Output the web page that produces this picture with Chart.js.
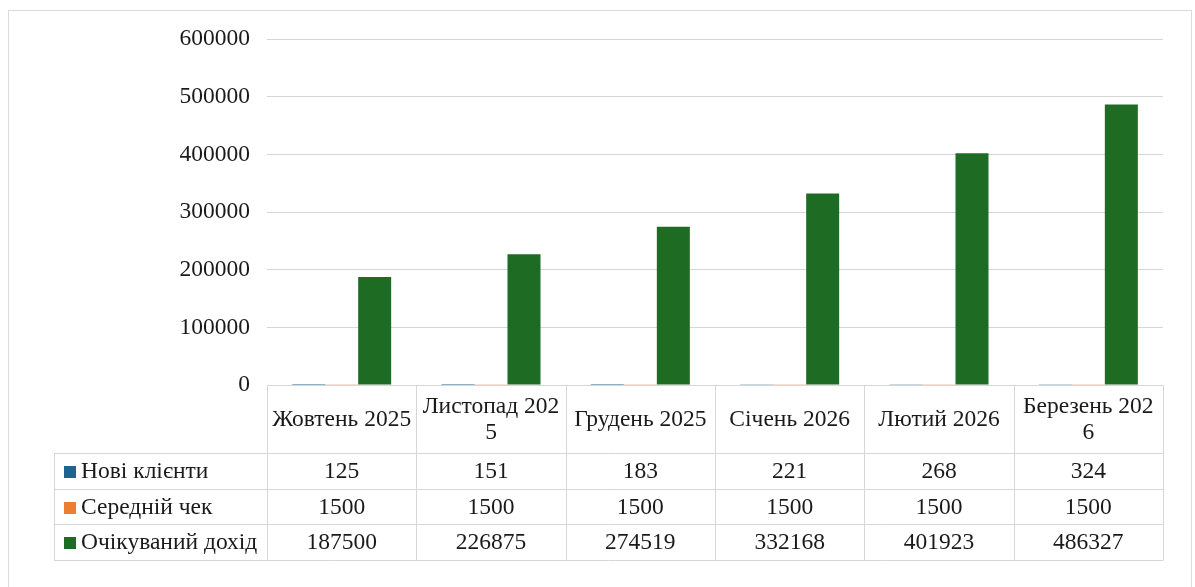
<!DOCTYPE html>
<html>
<head>
<meta charset="utf-8">
<script src="https://cdn.jsdelivr.net/npm/chart.js@4"></script>
<style>
  html, body { margin: 0; padding: 0; background: #ffffff; }
  #wrap { width: 1195px; height: 587px; position: relative; }
</style>
</head>
<body>
<div id="wrap"><canvas id="c" width="1195" height="587"></canvas></div>
<script>
// Months (header cells wrap the same way the spreadsheet table does)
const months = [
  ["Жовтень 2025"],
  ["Листопад 202", "5"],
  ["Грудень 2025"],
  ["Січень 2026"],
  ["Лютий 2026"],
  ["Березень 202", "6"]
];
const newClients = [125, 151, 183, 221, 268, 324];
const avgCheck = [1500, 1500, 1500, 1500, 1500, 1500];
const expectedIncome = [187500, 226875, 274519, 332168, 401923, 486327];
const seriesNames = ["Нові клієнти", "Середній чек", "Очікуваний дохід"];
const seriesColors = ["#1F6391", "#ED7D31", "#1E6B24"];
const yTicks = [0, 100000, 200000, 300000, 400000, 500000, 600000];

const FONT = '"Liberation Serif", "Times New Roman", serif';
const TEXT = '#1a1a1a';
const LINE = '#d6d6d6';

// Frame around the whole chart
const frame = {
  id: 'frame',
  beforeDraw(chart) {
    const ctx = chart.ctx;
    ctx.save();
    ctx.fillStyle = '#ffffff';
    ctx.fillRect(0, 0, chart.width, chart.height);
    ctx.strokeStyle = '#dcdcdc';
    ctx.lineWidth = 1;
    ctx.strokeRect(8.5, 10.5, 1183, 620);
    ctx.restore();
  }
};

// Data table under the plot, columns aligned to the category scale
const dataTable = {
  id: 'dataTable',
  afterDraw(chart) {
    const ctx = chart.ctx;
    const xs = chart.scales.x, ys = chart.scales.y;
    const n = chart.data.labels.length;
    const colW = (xs.right - xs.left) / n;
    const top = Math.round(ys.getPixelForValue(0));
    const headerBottom = top + 68;
    const rowH = 35.67;
    const legendLeft = 54;
    const datasets = chart.data.datasets;
    const bottom = headerBottom + rowH * datasets.length;
    const px = v => Math.round(v) + 0.5;

    ctx.save();
    ctx.strokeStyle = LINE;
    ctx.lineWidth = 1;
    ctx.beginPath();
    // horizontal rules
    ctx.moveTo(xs.left, px(top)); ctx.lineTo(xs.right, px(top));
    for (let r = 0; r <= datasets.length; r++) {
      const yy = px(headerBottom + r * rowH);
      ctx.moveTo(legendLeft, yy); ctx.lineTo(xs.right, yy);
    }
    // vertical rules
    ctx.moveTo(px(legendLeft), px(headerBottom)); ctx.lineTo(px(legendLeft), px(bottom));
    for (let i = 0; i <= n; i++) {
      const xx = px(xs.left + i * colW);
      ctx.moveTo(xx, px(top)); ctx.lineTo(xx, px(bottom));
    }
    ctx.stroke();

    ctx.fillStyle = TEXT;
    ctx.font = '23.5px ' + FONT;
    ctx.textAlign = 'center';
    ctx.textBaseline = 'middle';
    const lineH = 26;
    // header labels
    chart.data.labels.forEach((lbl, i) => {
      const lines = Array.isArray(lbl) ? lbl : [lbl];
      const cx = xs.left + (i + 0.5) * colW;
      const cy = (top + headerBottom) / 2 + 1;
      lines.forEach((t, k) => {
        ctx.fillText(t, cx, cy + (k - (lines.length - 1) / 2) * lineH);
      });
    });
    // rows: legend key + values
    datasets.forEach((ds, r) => {
      const cy = headerBottom + (r + 0.5) * rowH + 1;
      ctx.fillStyle = ds.backgroundColor;
      ctx.fillRect(64, Math.round(cy - 6), 12, 12);
      ctx.fillStyle = TEXT;
      ctx.textAlign = 'left';
      ctx.fillText(ds.label, 81, cy);
      ctx.textAlign = 'center';
      ds.data.forEach((v, i) => {
        ctx.fillText(String(v), xs.left + (i + 0.5) * colW, cy);
      });
    });
    ctx.restore();
  }
};

const seriesData = [newClients, avgCheck, expectedIncome];

new Chart(document.getElementById('c'), {
  type: 'bar',
  data: {
    labels: months,
    datasets: seriesData.map((d, i) => ({
      label: seriesNames[i],
      data: d,
      backgroundColor: seriesColors[i],
      borderWidth: 0,
      categoryPercentage: 0.663,
      barPercentage: 1.0
    }))
  },
  options: {
    responsive: false,
    animation: false,
    devicePixelRatio: 1,
    layout: { padding: { left: 8, right: 32, top: 39, bottom: 202 } },
    plugins: {
      legend: { display: false },
      tooltip: { enabled: false }
    },
    scales: {
      x: { display: false },
      y: {
        min: 0,
        max: 600000,
        afterFit(scale) { scale.width = 259; },
        afterBuildTicks(scale) { scale.ticks = yTicks.map(v => ({ value: v })); },
        border: { display: false },
        grid: { color: LINE, lineWidth: 1, drawTicks: false },
        ticks: {
          padding: 17,
          color: TEXT,
          font: { family: FONT, size: 23.5 },
          callback: v => String(v)
        }
      }
    }
  },
  plugins: [frame, dataTable]
});
</script>
</body>
</html>
